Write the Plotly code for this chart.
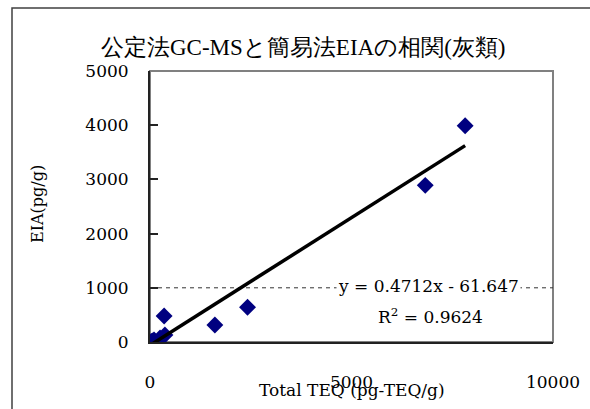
import re
import plotly.graph_objects as go

# Data
total_teq = [30, 60, 100, 250, 370, 350, 1610, 2420, 6830, 7820]
eia = [10, 20, 40, 75, 130, 480, 315, 640, 2890, 3990]

slope = 0.4712
intercept = -61.647
r2 = 0.9624

x_ticks = [0, 5000, 10000]
x_tick_labels = ["0", "5000", "10000"]
y_ticks = [0, 1000, 2000, 3000, 4000, 5000]

title_text = "公定法GC-MSと簡易法EIAの相関(灰類)"
x_title = "Total TEQ (pg-TEQ/g)"
y_title = "EIA(pg/g)"

FONT = "DejaVu Serif"

# wrap Latin runs of the title in an explicit serif font span
title_display = re.sub(
    r"([A-Za-z0-9\-\(\)]+)",
    r"<span style='font-family:\"DejaVu Serif\"'>\1</span>",
    title_text,
)

trend_x = [min(total_teq), max(total_teq)]
trend_y = [slope * v + intercept for v in trend_x]

fig = go.Figure()
fig.add_trace(go.Scatter(
    x=total_teq, y=eia, mode="markers",
    marker=dict(symbol="diamond", size=13, color="#000080", line=dict(width=0)),
    showlegend=False, hoverinfo="skip",
))
fig.add_trace(go.Scatter(
    x=trend_x, y=trend_y, mode="lines",
    line=dict(color="black", width=3.5),
    showlegend=False, hoverinfo="skip",
))

W, H = 590, 409
L, R, T, B = 150, 37, 71, 67
pw, ph = W - L - R, H - T - B

def px(xp):
    return (xp - L) / pw

def py(yp):
    return (H - B - yp) / ph

shapes = [
    dict(type="rect", xref="paper", yref="paper",
         x0=px(12), x1=px(620), y0=py(8), y1=py(440),
         line=dict(color="#404040", width=1.5), layer="below"),
    dict(type="rect", xref="paper", yref="paper",
         x0=0, x1=1, y0=0, y1=1,
         line=dict(color="#808080", width=2), layer="below"),
    dict(type="line", xref="paper", yref="y",
         x0=0, x1=1, y0=1000, y1=1000,
         line=dict(color="#333333", width=1, dash="4px,4px"), layer="below"),
]

def ann(text, x, y, size, **kw):
    return dict(text=text, xref="paper", yref="paper", x=px(x), y=py(y),
                xanchor="center", yanchor="middle", showarrow=False,
                font=dict(family=FONT, size=size, color="black"), **kw)

annotations = [
    ann(f"y = {slope}x - {abs(intercept)}", 428, 286, 17,
        bgcolor="white", borderpad=1),
    ann(f"R<sup>2</sup> = {r2}", 430, 316, 17, bgcolor="white", borderpad=1),
    ann(x_title, 352, 390, 17),
    ann(y_title, 37, 204, 16, textangle=-90),
    ann(title_display, 303, 47, 23),
]

fig.update_layout(
    width=W, height=H,
    margin=dict(l=L, r=R, t=T, b=B, autoexpand=False),
    paper_bgcolor="white", plot_bgcolor="white",
    shapes=shapes,
    annotations=annotations,
    font=dict(family=FONT, size=17, color="black"),
)
fig.update_xaxes(
    range=[0, 10000], tickvals=x_ticks, ticktext=x_tick_labels, ticks="",
    showgrid=False, automargin=False,
    zeroline=False, showline=True, linecolor="#222222", linewidth=2,
    tickfont=dict(family=FONT, size=17, color="black"),
    ticklabelstandoff=24,
)
fig.update_yaxes(
    range=[0, 5000], tickvals=y_ticks, ticks="inside", ticklen=8,
    tickcolor="#222222", tickwidth=1.5, showgrid=False, automargin=False,
    zeroline=False, showline=True, linecolor="#222222", linewidth=2,
    tickfont=dict(family=FONT, size=17, color="black"),
    ticklabelstandoff=16,
)

fig.write_html("out.html", config={"displayModeBar": False},
               post_script="document.body.style.margin='0';")
